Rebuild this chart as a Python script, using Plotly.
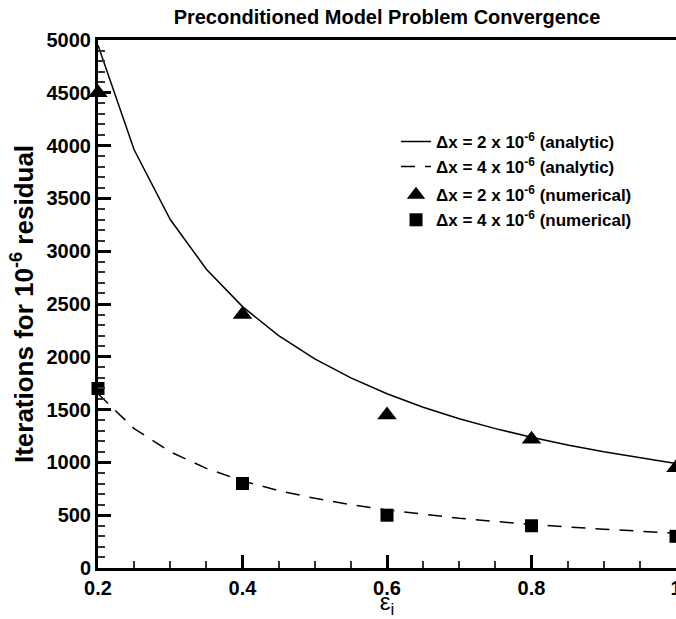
import plotly.graph_objects as go

# Analytic curves
eps_curve = [0.2, 0.25, 0.3, 0.35, 0.4, 0.45, 0.5, 0.55, 0.6, 0.65, 0.7, 0.75, 0.8, 0.85, 0.9, 0.95, 1.0]
iters_dx2_analytic = [4950, 3960, 3300, 2830, 2475, 2200, 1980, 1800, 1650, 1523, 1414, 1320, 1238, 1165, 1100, 1042, 990]
iters_dx4_analytic = [1650, 1320, 1100, 943, 825, 733, 660, 600, 550, 508, 471, 440, 413, 388, 367, 347, 330]

# Numerical results
eps_pts = [0.2, 0.4, 0.6, 0.8, 1.0]
iters_dx2_numerical = [4500, 2400, 1450, 1220, 950]
iters_dx4_numerical = [1700, 800, 500, 400, 300]

names = [
    "Δx = 2 x 10<sup>-6</sup> (analytic)",
    "Δx = 4 x 10<sup>-6</sup> (analytic)",
    "Δx = 2 x 10<sup>-6</sup> (numerical)",
    "Δx = 4 x 10<sup>-6</sup> (numerical)",
]

FONT = "Liberation Sans, Arial, Helvetica, sans-serif"

fig = go.Figure()
fig.add_trace(go.Scatter(x=eps_curve, y=iters_dx2_analytic, mode="lines", name=names[0],
                         line=dict(color="black", width=1.5), legendgroup="a", cliponaxis=False))
fig.add_trace(go.Scatter(x=eps_curve, y=iters_dx4_analytic, mode="lines", name=names[1],
                         line=dict(color="black", width=1.5, dash="14px,10px"), legendgroup="a", cliponaxis=False))
fig.add_trace(go.Scatter(x=eps_pts, y=iters_dx2_numerical, mode="markers", name=names[2],
                         marker=dict(symbol="triangle-up", size=17, color="black"), legendgroup="n", cliponaxis=False))
fig.add_trace(go.Scatter(x=eps_pts, y=iters_dx4_numerical, mode="markers", name=names[3],
                         marker=dict(symbol="square", size=13, color="black"), legendgroup="n", cliponaxis=False))

axis_common = dict(
    showline=True, linecolor="black", linewidth=3, mirror=True,
    ticks="inside", ticklen=13, tickwidth=3, tickcolor="black",
    showgrid=False, zeroline=False,
    ticklabeloverflow="allow",
    tickfont=dict(family=FONT, size=20, color="black", weight="bold"),
)

fig.update_xaxes(
    range=[0.2, 1.0], tickmode="linear", tick0=0.2, dtick=0.2,
    minor=dict(ticks="inside", ticklen=7, tickwidth=1.5, tickcolor="#333", dtick=0.05, tick0=0.2),
    title=dict(text="ε<sub>i</sub>", font=dict(family=FONT, size=24, color="black"), standoff=0),
    automargin=False,
    **axis_common,
)
fig.update_yaxes(
    range=[0, 5000], tickmode="linear", tick0=0, dtick=500,
    minor=dict(ticks="inside", ticklen=7, tickwidth=1.5, tickcolor="#333", dtick=100, tick0=0),
    title=dict(text="Iterations for 10<sup>-6</sup> residual",
               font=dict(family=FONT, size=26, color="black", weight="bold"), standoff=6),
    automargin=False,
    **axis_common,
)

W, H = 676, 619
L, T, B = 98, 40, 51
fig.update_layout(
    width=W, height=H,
    margin=dict(l=L, r=0, t=T, b=B),
    paper_bgcolor="white", plot_bgcolor="white",
    title=dict(text="Preconditioned Model Problem Convergence", x=(L + W) / 2 / W, xanchor="center",
               y=1 - 17 / H, yanchor="middle",
               font=dict(family=FONT, size=20, color="black", weight="bold")),
    legend=dict(x=0.5156, y=0.841, xanchor="left", yanchor="top",
                bgcolor="rgba(0,0,0,0)", borderwidth=0,
                font=dict(family=FONT, size=17, color="black", weight="bold"),
                traceorder="grouped", tracegroupgap=3),
    showlegend=True,
)

fig.write_html("out.html",
               config={"displayModeBar": False},
               post_script="document.body.style.margin='0';document.body.style.overflow='hidden';")
